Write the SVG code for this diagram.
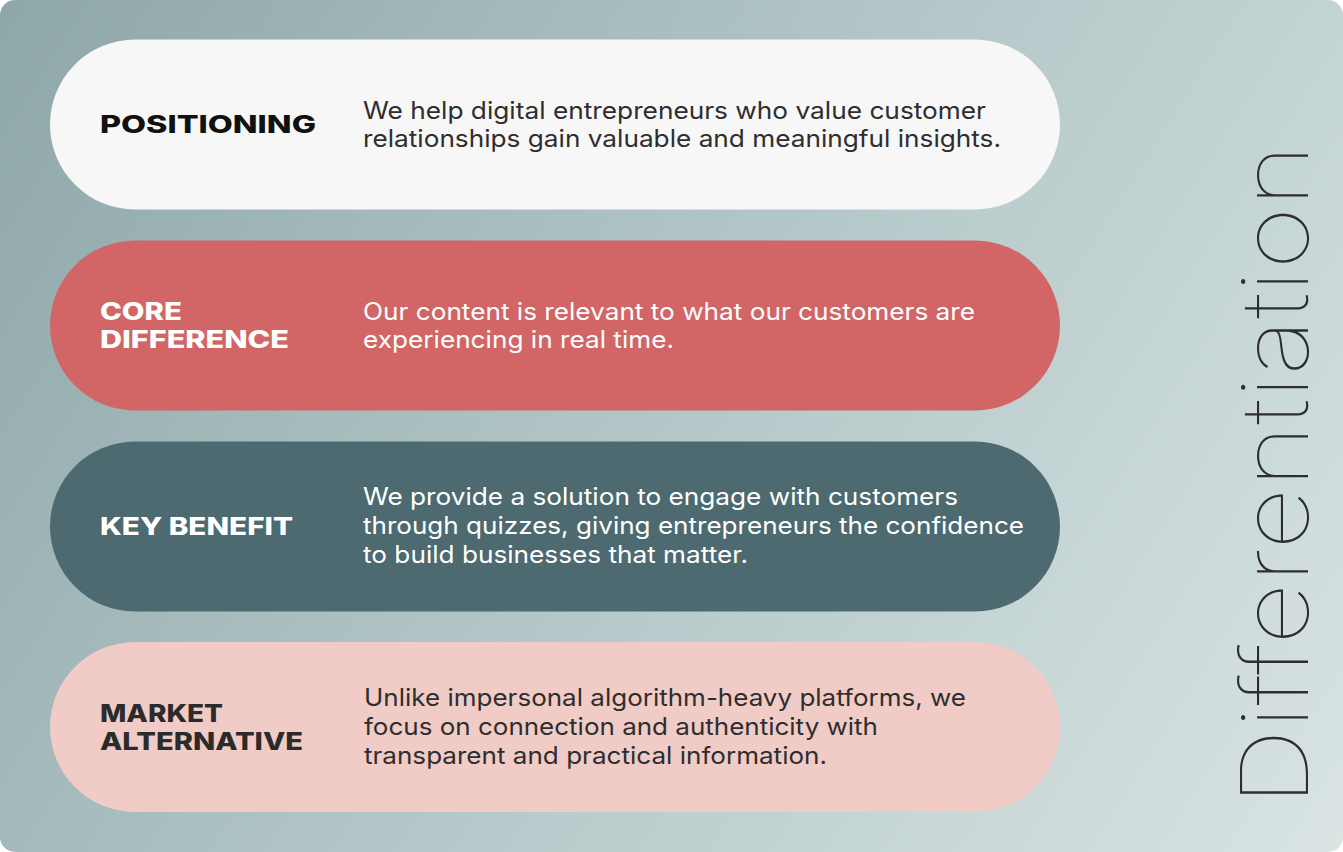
<svg xmlns="http://www.w3.org/2000/svg" width="1343" height="852" viewBox="0 0 1343 852">
  <defs>
    <linearGradient id="bg" x1="0" y1="0" x2="1343" y2="852" gradientUnits="userSpaceOnUse">
      <stop offset="0" stop-color="#8ea7a9"/>
      <stop offset="0.5" stop-color="#b4c7c8"/>
      <stop offset="1" stop-color="#d9e4e3"/>
    </linearGradient>
  </defs>
  <style>
    .label { font-family: Inter, "Liberation Sans", sans-serif; font-weight: 800; font-size: 24px; }
    .body { font-family: Inter, "Liberation Sans", sans-serif; font-weight: 400; font-size: 24px; }
    .dark { fill: #2e2e2e; }
    .light { fill: #ffffff; }
    .title { font-family: Inter, "Liberation Sans", sans-serif; font-weight: 100; font-size: 93px; fill: #2e2e2e; }
  </style>
  <rect x="0" y="0" width="1343" height="852" fill="#ffffff"/>
  <rect x="0" y="0" width="1343" height="852" rx="15" fill="url(#bg)"/>

  <g id="positioning">
    <rect x="50" y="39.5" width="1010" height="170" rx="85" fill="#f7f7f7"/>
    <text class="label" x="100" y="133" fill="#111111" textLength="216" lengthAdjust="spacingAndGlyphs">POSITIONING</text>
    <text class="body dark" x="363" y="119" textLength="623" lengthAdjust="spacingAndGlyphs">We help digital entrepreneurs who value customer</text>
    <text class="body dark" x="363" y="147" textLength="638" lengthAdjust="spacingAndGlyphs">relationships gain valuable and meaningful insights.</text>
  </g>

  <g id="core-difference">
    <rect x="50" y="240.5" width="1010" height="170" rx="85" fill="#d26565"/>
    <text class="label light" x="100" y="320" textLength="82" lengthAdjust="spacingAndGlyphs">CORE</text>
    <text class="label light" x="100" y="348" textLength="189" lengthAdjust="spacingAndGlyphs">DIFFERENCE</text>
    <text class="body light" x="363" y="320" textLength="612" lengthAdjust="spacingAndGlyphs">Our content is relevant to what our customers are</text>
    <text class="body light" x="363" y="348" textLength="311" lengthAdjust="spacingAndGlyphs">experiencing in real time.</text>
  </g>

  <g id="key-benefit">
    <rect x="50" y="441.5" width="1010" height="170" rx="85" fill="#4c6a6f"/>
    <text class="label light" x="100" y="535" textLength="193" lengthAdjust="spacingAndGlyphs">KEY BENEFIT</text>
    <text class="body light" x="363" y="505" textLength="595" lengthAdjust="spacingAndGlyphs">We provide a solution to engage with customers</text>
    <text class="body light" x="363" y="534" textLength="661" lengthAdjust="spacingAndGlyphs">through quizzes, giving entrepreneurs the confidence</text>
    <text class="body light" x="363" y="563" textLength="385" lengthAdjust="spacingAndGlyphs">to build businesses that matter.</text>
  </g>

  <g id="market-alternative">
    <rect x="50" y="642" width="1010" height="170" rx="85" fill="#f1ccc6"/>
    <text class="label" x="100" y="722" fill="#2b2b2b" textLength="123" lengthAdjust="spacingAndGlyphs">MARKET</text>
    <text class="label" x="100" y="750" fill="#2b2b2b" textLength="203" lengthAdjust="spacingAndGlyphs">ALTERNATIVE</text>
    <text class="body dark" x="364" y="706" textLength="602" lengthAdjust="spacingAndGlyphs">Unlike impersonal algorithm-heavy platforms, we</text>
    <text class="body dark" x="364" y="735" textLength="514" lengthAdjust="spacingAndGlyphs">focus on connection and authenticity with</text>
    <text class="body dark" x="364" y="764" textLength="463" lengthAdjust="spacingAndGlyphs">transparent and practical information.</text>
  </g>

  <g id="title">
    <text class="title" transform="translate(1308 806) rotate(-90)" x="0" y="0" textLength="662" lengthAdjust="spacingAndGlyphs">Differentiation</text>
  </g>
  <g id="connectors"/>
</svg>
